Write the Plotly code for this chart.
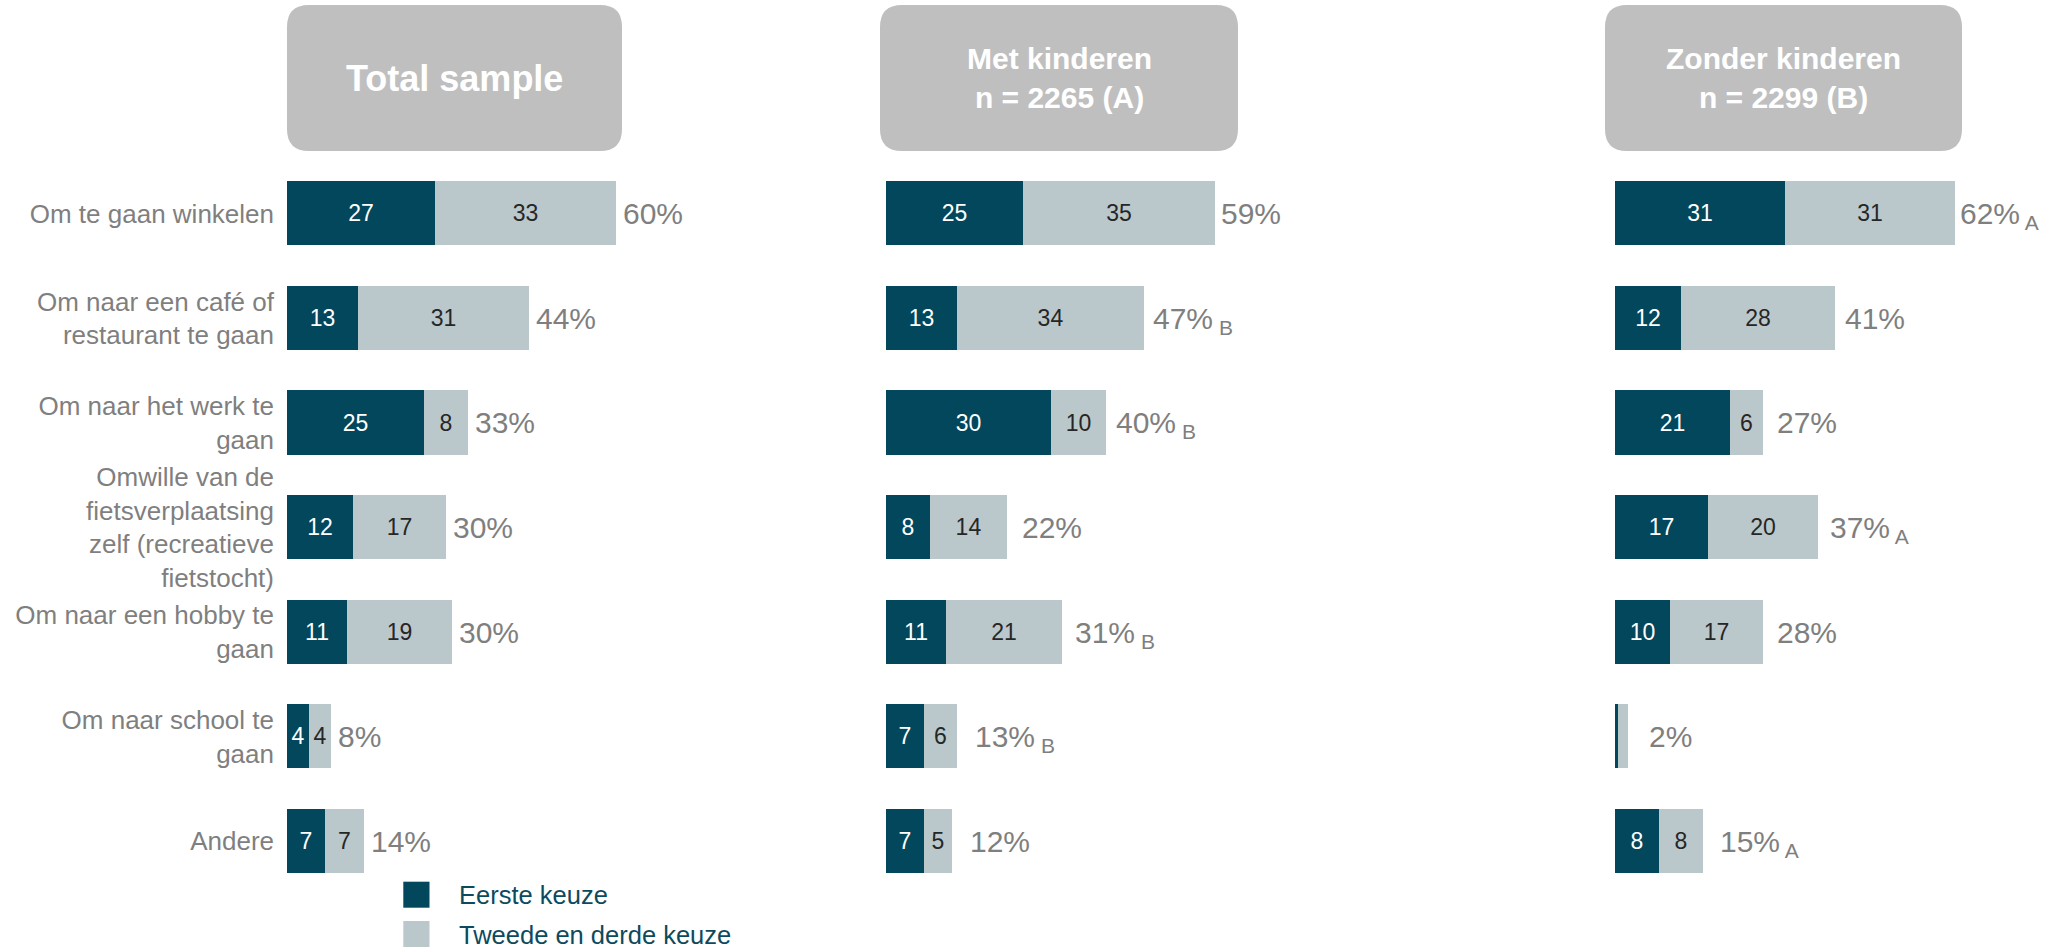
import plotly.graph_objects as go

# ---------------- data ----------------
categories = [
    "Om te gaan winkelen",
    "Om naar een café of<br>restaurant te gaan",
    "Om naar het werk te<br>gaan",
    "Omwille van de<br>fietsverplaatsing<br>zelf (recreatieve<br>fietstocht)",
    "Om naar een hobby te<br>gaan",
    "Om naar school te<br>gaan",
    "Andere",
]
series_names = ["Eerste keuze", "Tweede en derde keuze"]
panel_titles = ["Total sample", "Met kinderen<br>n = 2265 (A)", "Zonder kinderen<br>n = 2299 (B)"]

total_first = [27, 13, 25, 12, 11, 4, 7]
total_other = [33, 31, 8, 17, 19, 4, 7]
total_sum = [60, 44, 33, 30, 30, 8, 14]
total_sig = ["", "", "", "", "", "", ""]

met_first = [25, 13, 30, 8, 11, 7, 7]
met_other = [35, 34, 10, 14, 21, 6, 5]
met_sum = [59, 47, 40, 22, 31, 13, 12]
met_sig = ["", "B", "B", "", "B", "B", ""]

zonder_first = [31, 12, 21, 17, 10, 0.6, 8]
zonder_other = [31, 28, 6, 20, 17, 1.7, 8]
zonder_sum = [62, 41, 27, 37, 28, 2, 15]
zonder_sig = ["A", "", "", "A", "", "", "A"]

panels = [
    (total_first, total_other, total_sum, total_sig),
    (met_first, met_other, met_sum, met_sig),
    (zonder_first, zonder_other, zonder_sum, zonder_sig),
]

# ---------------- style ----------------
W, H = 2065, 948
DARK = "#02475c"
LIGHT = "#bac8cc"
GREY_TXT = "#7f7f7f"
BOX = "#bfbfbf"
FONT = "Liberation Sans, Arial, sans-serif"
XMAX = 80
PX_PER_UNIT = 5.49
panel_left_px = [287, 886, 1615]
row_top_px, row_bot_px = 161.4, 893.6
header_boxes_px = [(287, 622), (880, 1238), (1605, 1962)]
header_y_px = (5, 151)
header_font = [36, 30, 30]


def px(x):
    return x / W


def py(y):
    return 1 - y / H


fig = go.Figure()
ypos = list(range(len(categories)))

for i, (first, other, tot, sig) in enumerate(panels):
    xa = "x" if i == 0 else f"x{i + 1}"
    fig.add_trace(go.Bar(
        x=first, y=ypos, orientation="h", xaxis=xa, yaxis="y",
        name=series_names[0], marker=dict(color=DARK, line=dict(width=0)),
        width=0.612,
        text=[f"{v:g}" if v >= 2 else None for v in first],
        textposition="inside", insidetextanchor="middle",
        textfont=dict(color="white", size=23, family=FONT),
        showlegend=False, hoverinfo="skip",
    ))
    fig.add_trace(go.Bar(
        x=other, y=ypos, orientation="h", xaxis=xa, yaxis="y",
        name=series_names[1], marker=dict(color=LIGHT, line=dict(width=0)),
        width=0.612,
        text=[f"{v:g}" if v >= 2 else None for v in other],
        textposition="inside", insidetextanchor="middle",
        textfont=dict(color="#262626", size=23, family=FONT),
        showlegend=False, hoverinfo="skip",
    ))
    # total labels
    for r in ypos:
        end = first[r] + other[r]
        gap = 5 if i == 0 else max(3, 19.5 - 0.27 * tot[r])
        txt = f"{tot[r]}%" + (f"<sub> {sig[r]}</sub>" if sig[r] else "")
        fig.add_annotation(
            x=end, y=r, xref=xa, yref="y", text=txt, showarrow=False,
            xanchor="left", yanchor="middle", xshift=gap, yshift=-2 if sig[r] else 0,
            font=dict(size=30, color=GREY_TXT, family=FONT),
        )

# axes
layout_axes = {}
for i in range(3):
    left = panel_left_px[i]
    key = "xaxis" if i == 0 else f"xaxis{i + 1}"
    layout_axes[key] = dict(
        domain=[px(left), px(left + XMAX * PX_PER_UNIT)], range=[0, XMAX],
        showgrid=False, zeroline=False, showticklabels=False, showline=False,
        ticks="", anchor="y", fixedrange=True,
    )
layout_axes["yaxis"] = dict(
    domain=[py(row_bot_px), py(row_top_px)], range=[len(categories) - 0.5, -0.5],
    tickvals=ypos, ticktext=categories, ticks="", showgrid=False, zeroline=False,
    showline=False, ticklabelstandoff=12,
    tickfont=dict(size=26, color=GREY_TXT, family=FONT), anchor="x",
)

# header boxes (rounded)
shapes = []
r = 22
for (x0p, x1p), title, fs in zip(header_boxes_px, panel_titles, header_font):
    y0p, y1p = header_y_px
    path = (
        f"M {px(x0p + r)},{py(y0p)} L {px(x1p - r)},{py(y0p)} "
        f"Q {px(x1p)},{py(y0p)} {px(x1p)},{py(y0p + r)} "
        f"L {px(x1p)},{py(y1p - r)} Q {px(x1p)},{py(y1p)} {px(x1p - r)},{py(y1p)} "
        f"L {px(x0p + r)},{py(y1p)} Q {px(x0p)},{py(y1p)} {px(x0p)},{py(y1p - r)} "
        f"L {px(x0p)},{py(y0p + r)} Q {px(x0p)},{py(y0p)} {px(x0p + r)},{py(y0p)} Z"
    )
    shapes.append(dict(type="path", xref="paper", yref="paper", path=path,
                       fillcolor=BOX, line=dict(width=0), layer="below"))
    fig.add_annotation(
        x=px((x0p + x1p) / 2), y=py((y0p + y1p) / 2), xref="paper", yref="paper",
        text=f"<b>{title}</b>", showarrow=False, xanchor="center", yanchor="middle",
        font=dict(size=fs, color="white", family=FONT),
    )

# manual legend
legend_items = [(series_names[0], DARK, 881.7), (series_names[1], LIGHT, 921)]
for name, col, ytop in legend_items:
    shapes.append(dict(type="rect", xref="paper", yref="paper",
                       x0=px(403.3), x1=px(429.5), y0=py(ytop + 26), y1=py(ytop),
                       fillcolor=col, line=dict(width=0)))
    fig.add_annotation(
        x=px(457), y=py(ytop + 13.5), xref="paper", yref="paper", text=name,
        showarrow=False, xanchor="left", yanchor="middle",
        font=dict(size=25.5, color="#0d4a5e", family=FONT),
    )

fig.update_layout(
    width=W, height=H, margin=dict(l=0, r=0, t=0, b=0),
    barmode="stack", bargap=0, paper_bgcolor="white", plot_bgcolor="white",
    shapes=shapes, showlegend=False,
    uniformtext=dict(mode="show", minsize=23),
    font=dict(family=FONT),
    **layout_axes,
)

fig.write_html(
    "out.html",
    config={"displayModeBar": False},
    post_script="document.body.style.margin='0';document.body.style.overflow='hidden';",
)
